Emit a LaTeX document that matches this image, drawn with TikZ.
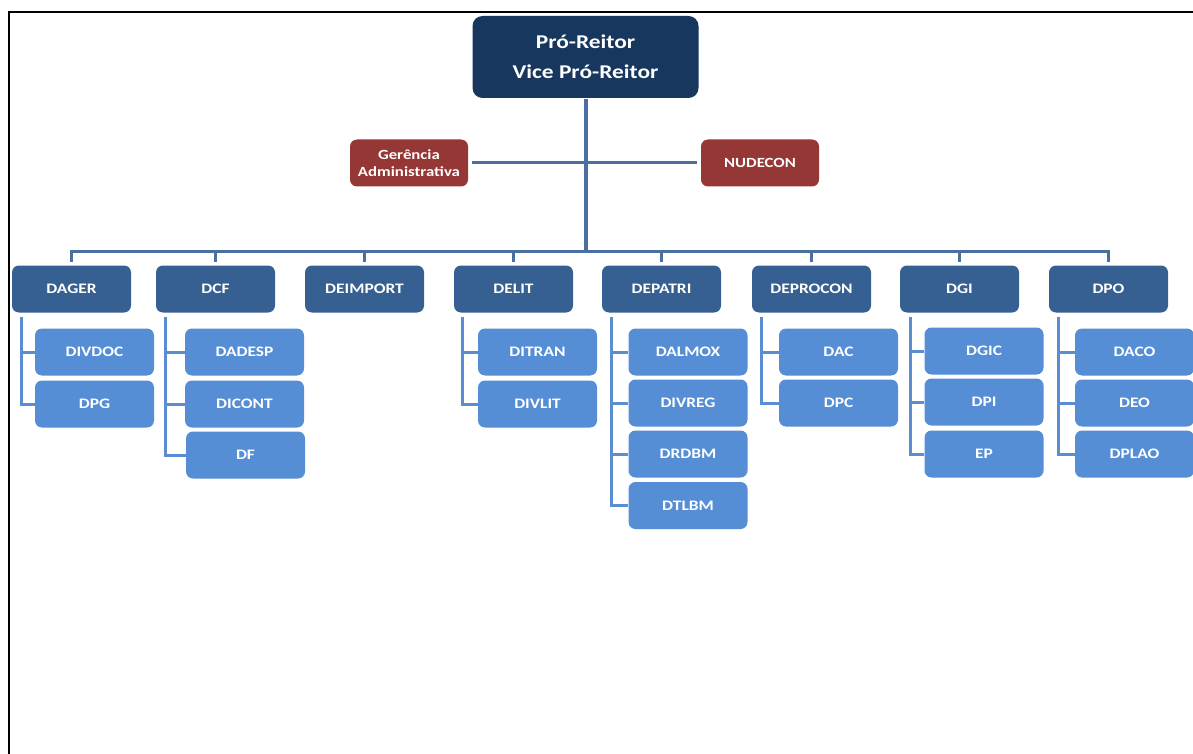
\documentclass[tikz,border=0pt]{standalone}
\usepackage{fontspec}
\newfontfamily\labfont[FakeStretch=1.2]{Carlito}
\definecolor{navy}{HTML}{17375E}
\definecolor{hdrc}{HTML}{366092}
\definecolor{chdc}{HTML}{558ED5}
\definecolor{redc}{HTML}{953735}
\definecolor{busc}{HTML}{4A6FA0}
\definecolor{brc}{HTML}{5A8ED0}
\begin{document}
\begin{tikzpicture}[x=1pt,y=-1pt,
  box/.style={rounded corners=7pt, inner sep=0pt, text=white, align=center,
    font=\labfont\bfseries\fontsize{14.5}{17}\selectfont},
  hdr/.style={box, fill=hdrc, minimum width=119pt, minimum height=47pt},
  chd/.style={box, fill=chdc, minimum width=119pt, minimum height=47pt},
  redbox/.style={box, fill=redc, minimum width=118pt, minimum height=47pt,
    font=\labfont\bfseries\fontsize{14}{17}\selectfont},
  chief/.style={box, fill=navy, rounded corners=10pt, minimum width=226pt, minimum height=82pt,
    font=\labfont\bfseries\fontsize{19.5}{30}\selectfont},
  busline/.style={draw=busc, line width=3pt},
  mainv/.style={draw=busc, line width=4pt},
  brline/.style={draw=brc, line width=3pt}
]
\useasboundingbox (0,0) rectangle (1193,754);
\fill[white] (0,0) rectangle (1193,754);
% frame
\draw[line width=1.6pt] (9,754) -- (9,12) -- (1193,12);

% top
\node[chief] (pr) at (585.5,57) {Pró-Reitor\\[0pt]Vice Pró-Reitor};
\node[redbox] (ger) at (409,163) {Gerência\\Administrativa};
\node[redbox] (nud) at (760,163) {NUDECON};

% headers
\node[hdr] (h1) at (71.5,289) {DAGER};
\node[hdr] (h2) at (215.5,289) {DCF};
\node[hdr] (h3) at (364.5,289) {DEIMPORT};
\node[hdr] (h4) at (513.5,289) {DELIT};
\node[hdr] (h5) at (661.5,289) {DEPATRI};
\node[hdr] (h6) at (811.5,289) {DEPROCON};
\node[hdr] (h7) at (959.5,289) {DGI};
\node[hdr] (h8) at (1108.5,289) {DPO};

% children
\node[chd] (c1a) at (94.5,352) {DIVDOC};
\node[chd] (c1b) at (94.5,404) {DPG};
\node[chd] (c2a) at (244.5,352) {DADESP};
\node[chd] (c2b) at (244.5,404) {DICONT};
\node[chd] (c2c) at (245.5,455) {DF};
\node[chd] (c4a) at (537.5,352) {DITRAN};
\node[chd] (c4b) at (537.5,404) {DIVLIT};
\node[chd] (c5a) at (688,352) {DALMOX};
\node[chd] (c5b) at (688,403) {DIVREG};
\node[chd] (c5c) at (688,454) {DRDBM};
\node[chd] (c5d) at (688,505.5) {DTLBM};
\node[chd] (c6a) at (838.5,352) {DAC};
\node[chd] (c6b) at (838.5,403) {DPC};
\node[chd] (c7a) at (984,351) {DGIC};
\node[chd] (c7b) at (984,402) {DPI};
\node[chd] (c7c) at (984,454) {EP};
\node[chd] (c8a) at (1134.5,352) {DACO};
\node[chd] (c8b) at (1134.5,403) {DEO};
\node[chd] (c8c) at (1134.5,454) {DPLAO};

% connectors top
\coordinate (bus) at (585.5,251);
\draw[mainv] ([yshift=-1pt]pr.south) -- (bus);
\draw[busline] ([xshift=4pt]ger.east) -- ([xshift=-4pt]nud.west);
\draw[busline] ([yshift=3pt]h1.north) -- (h1.north |- bus) -- (h8.north |- bus) -- ([yshift=3pt]h8.north);
\foreach \h in {h2,h3,h4,h5,h6,h7}
  \draw[busline] ([yshift=3pt]\h.north) -- (\h.north |- bus);

% brackets
\coordinate (b1) at ([xshift=10pt,yshift=-4pt]h1.south west);
\draw[brline] (b1) |- (c1b.west);
\draw[brline] (b1 |- c1a.west) -- (c1a.west);

\coordinate (b2) at ([xshift=10pt,yshift=-4pt]h2.south west);
\draw[brline] (b2) |- (c2c.west);
\draw[brline] (b2 |- c2a.west) -- (c2a.west);
\draw[brline] (b2 |- c2b.west) -- (c2b.west);

\coordinate (b4) at ([xshift=9pt,yshift=-4pt]h4.south west);
\draw[brline] (b4) |- (c4b.west);
\draw[brline] (b4 |- c4a.west) -- (c4a.west);

\coordinate (b5) at ([xshift=10pt,yshift=-4pt]h5.south west);
\draw[brline] (b5) |- (c5d.west);
\draw[brline] (b5 |- c5a.west) -- (c5a.west);
\draw[brline] (b5 |- c5b.west) -- (c5b.west);
\draw[brline] (b5 |- c5c.west) -- (c5c.west);

\coordinate (b6) at ([xshift=10pt,yshift=-4pt]h6.south west);
\draw[brline] (b6) |- (c6b.west);
\draw[brline] (b6 |- c6a.west) -- (c6a.west);

\coordinate (b7) at ([xshift=11pt,yshift=-4pt]h7.south west);
\draw[brline] (b7) |- (c7c.west);
\draw[brline] (b7 |- c7a.west) -- (c7a.west);
\draw[brline] (b7 |- c7b.west) -- (c7b.west);

\coordinate (b8) at ([xshift=10pt,yshift=-4pt]h8.south west);
\draw[brline] (b8) |- (c8c.west);
\draw[brline] (b8 |- c8a.west) -- (c8a.west);
\draw[brline] (b8 |- c8b.west) -- (c8b.west);
\end{tikzpicture}
\end{document}
